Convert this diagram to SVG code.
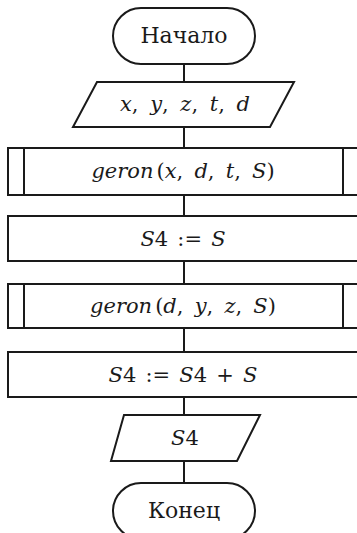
<svg xmlns="http://www.w3.org/2000/svg" width="357" height="533" viewBox="0 0 357 533">
<style>
.s{fill:#fff;stroke:#1a1a1a;stroke-width:2}
.c{stroke:#1a1a1a;stroke-width:2;fill:none}
text{font-family:"DejaVu Serif","Liberation Serif",serif;font-size:21px;fill:#1a1a1a;text-anchor:middle;word-spacing:4.5px}
.i{font-style:italic}
.a{word-spacing:2.5px}
</style>
<rect width="357" height="533" fill="#fff"/>
<g id="connectors">
<line class="c" x1="184" y1="64" x2="184" y2="82"/>
<line class="c" x1="184" y1="127" x2="184" y2="148"/>
<line class="c" x1="184" y1="195" x2="184" y2="216"/>
<line class="c" x1="184" y1="261" x2="184" y2="284"/>
<line class="c" x1="184" y1="328" x2="184" y2="352"/>
<line class="c" x1="184" y1="397" x2="184" y2="415"/>
<line class="c" x1="184" y1="461" x2="184" y2="483"/>
</g>
<g id="start">
<rect class="s" x="113" y="8" width="142" height="56" rx="28"/>
<text x="184" y="43" style="font-size:22px">Начало</text>
</g>
<g id="input">
<polygon class="s" points="97,82 294,82 270,127 73,127"/>
<text x="185" y="111" style="word-spacing:5px"><tspan class="i">x</tspan>, <tspan class="i">y</tspan>, <tspan class="i">z</tspan>, <tspan class="i">t</tspan>, <tspan class="i">d</tspan></text>
</g>
<g id="geron1">
<rect class="s" x="8" y="148" width="362" height="47"/>
<line class="c" x1="24" y1="148" x2="24" y2="195"/>
<line class="c" x1="343" y1="148" x2="343" y2="195"/>
<text x="183" y="178"><tspan class="i">geron</tspan><tspan dx="3">(</tspan><tspan class="i">x</tspan>, <tspan class="i">d</tspan>, <tspan class="i">t</tspan>, <tspan class="i">S</tspan>)</text>
</g>
<g id="assign1">
<rect class="s" x="8" y="216" width="362" height="45"/>
<text class="a" x="183" y="246"><tspan class="i">S</tspan>4 := <tspan class="i">S</tspan></text>
</g>
<g id="geron2">
<rect class="s" x="8" y="284" width="362" height="44"/>
<line class="c" x1="24" y1="284" x2="24" y2="328"/>
<line class="c" x1="343" y1="284" x2="343" y2="328"/>
<text x="183" y="313"><tspan class="i">geron</tspan><tspan dx="3">(</tspan><tspan class="i">d</tspan>, <tspan class="i">y</tspan>, <tspan class="i">z</tspan>, <tspan class="i">S</tspan>)</text>
</g>
<g id="assign2">
<rect class="s" x="8" y="352" width="362" height="45"/>
<text class="a" x="183" y="382"><tspan class="i">S</tspan>4 := <tspan class="i">S</tspan>4 + <tspan class="i">S</tspan></text>
</g>
<g id="output">
<polygon class="s" points="124,415 260,415 237,461 111,461"/>
<text x="185" y="445"><tspan class="i">S</tspan>4</text>
</g>
<g id="end">
<rect class="s" x="113" y="483" width="142" height="56" rx="28"/>
<text x="184" y="518" style="font-size:22px">Конец</text>
</g>
</svg>
